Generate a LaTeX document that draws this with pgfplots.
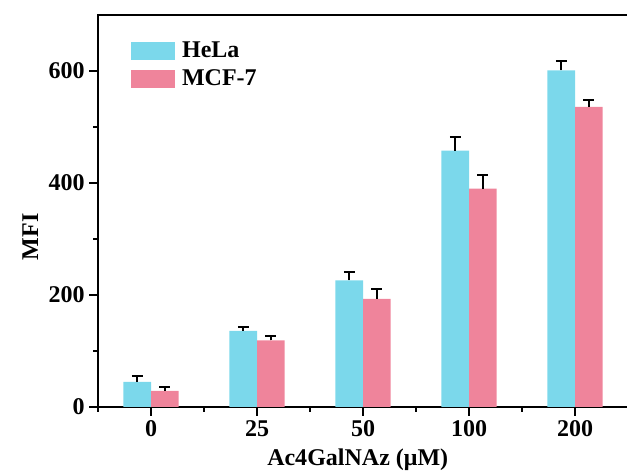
\documentclass[border=0pt]{standalone}
\usepackage{pgfplots}
\pgfplotsset{compat=1.18}
\usepackage{fontspec}
\setmainfont{Liberation Serif}
\definecolor{hela}{RGB}{123,216,235}
\definecolor{mcf}{RGB}{239,132,155}
\pgfplotstableread{
x val err
0 45 11
1 136 7
2 226 15
3 458 25
4 601 17
}\hela
\pgfplotstableread{
x val err
0 29 7
1 119 7
2 193 17
3 390 25
4 536 13
}\mcf
\begin{document}
\begin{tikzpicture}
\useasboundingbox (-73.5pt,-49.5pt) rectangle (396.75pt,305.25pt);
\begin{axis}[
  at={(0pt,0pt)}, anchor=south west,
  scale only axis, width=397.5pt, height=294pt,
  xmin=-0.5, xmax=4.5, ymin=0, ymax=700,
  xtick={0,1,2,3,4}, xticklabels={0,25,50,100,200},
  minor xtick={-0.5,0.5,1.5,2.5,3.5},
  ytick={0,200,400,600}, minor ytick={100,300,500},
  tick align=outside, tick pos=left,
  major tick length=6.5pt, minor tick length=3.5pt,
  every tick/.style={black, line width=1.2pt},
  axis line style={line width=1.4pt},
  font=\fontsize{18}{21.5}\selectfont\bfseries,
  /pgf/number format/assume math mode=true,
  ticklabel style={font=\fontsize{18}{21.5}\selectfont\bfseries},
  xlabel={Ac4GalNAz (μM)}, ylabel={MFI},
  xlabel style={at={(axis description cs:0.49,-0.135)}, anchor=center},
  ylabel style={at={(axis description cs:-0.128,0.434)}, anchor=center, rotate=0},
  ybar, bar width=0.26,
  legend style={draw=none, fill=none, at={(axis description cs:0.055,0.945)}, anchor=north west,
    font=\fontsize{18}{21.5}\selectfont\bfseries, row sep=3.5pt},
  legend cell align=left,
]
\addplot[fill=hela, draw=none, bar shift=-0.13,
  legend image code/.code={\fill[hela] (0pt,-6.6pt) rectangle (33pt,6.6pt); \path (36pt,0pt);},
  error bars/.cd, y dir=plus, y explicit,
  error bar style={line width=1.5pt, black},
  error mark options={rotate=90, mark size=4pt, line width=1.5pt, black}]
  table[x=x, y=val, y error=err] {\hela};
\addlegendentry{HeLa}
\addplot[fill=mcf, draw=none, bar shift=0.13,
  legend image code/.code={\fill[mcf] (0pt,-6.6pt) rectangle (33pt,6.6pt); \path (36pt,0pt);},
  error bars/.cd, y dir=plus, y explicit,
  error bar style={line width=1.5pt, black},
  error mark options={rotate=90, mark size=4pt, line width=1.5pt, black}]
  table[x=x, y=val, y error=err] {\mcf};
\addlegendentry{MCF-7}
\end{axis}
\end{tikzpicture}
\end{document}
